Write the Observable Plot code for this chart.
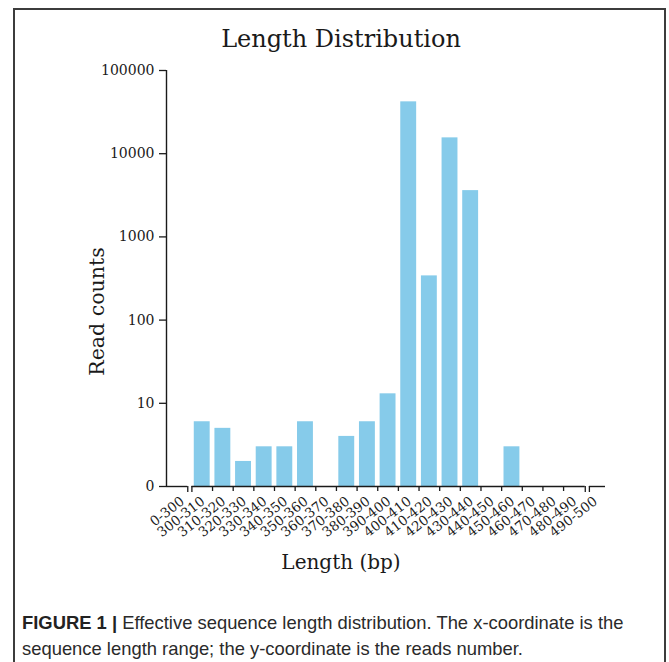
<!DOCTYPE html>
<html><head><meta charset="utf-8">
<script src="https://cdn.jsdelivr.net/npm/d3@7"></script>
<script src="https://cdn.jsdelivr.net/npm/@observablehq/plot@0.6"></script>
<style>
body{margin:0;background:#fff;width:669px;height:662px;overflow:hidden;position:relative}
#frame{position:absolute;left:13px;top:8px;width:653px;height:700px;border:2px solid #3c3c3c;box-sizing:border-box}
#chart{position:absolute;left:0;top:0}
#caption{position:absolute;left:22px;top:610px;width:645px;white-space:nowrap;font-family:"Liberation Sans",Arial,sans-serif;font-size:18.4px;line-height:26px;color:#2a2a2a}
#caption b{color:#222}
</style></head><body>
<div id="frame"></div>
<div id="chart"></div>
<div id="caption"><b>FIGURE 1 |</b> Effective sequence length distribution. The x-coordinate is the<br>sequence length range; the y-coordinate is the reads number.</div>
<script>
const lengthBins = ["0-300","300-310","310-320","320-330","330-340","340-350","350-360","360-370","370-380","380-390","390-400","400-410","410-420","420-430","430-440","440-450","450-460","460-470","470-480","480-490","490-500"];
const readCounts = [0,6,5,2,3,3,6,0,4,6,13,42000,340,15500,3600,0,3,0,0,0,0];
const yTicks = [1,10,100,1000,10000,100000];
const yTickLabels = ["0","10","100","1000","10000","100000"];
const axisBreaks = [0.4, 19.65];
const xDomain = [-0.73, 20.53];

const bars = lengthBins.map((bin, i) => ({bin, i, count: readCounts[i]})).filter(d => d.count > 0);
const boundaries = d3.range(1, 19).map(i => i + 0.5);
const gap = 0.1;
const segments = [
  [xDomain[0], axisBreaks[0] - gap],
  [axisBreaks[0] + gap, axisBreaks[1] - gap],
  [axisBreaks[1] + gap, xDomain[1]]
];
const breakTicks = axisBreaks.flatMap(b => [b - gap, b + gap]);
const ink = "#1a1a1a";

const chart = Plot.plot({
  width: 669,
  height: 590,
  marginLeft: 166,
  marginRight: 64,
  marginTop: 70,
  marginBottom: 104,
  style: {fontFamily: "DejaVu Serif", color: ink, background: "transparent"},
  x: {domain: xDomain, axis: null},
  y: {type: "log", domain: [1, 100000], axis: null},
  marks: [
    Plot.rectY(bars, {x1: d => d.i - 0.385, x2: d => d.i + 0.385, y1: 1, y2: "count", fill: "#86cbea"}),
    Plot.axisY({ticks: yTicks, tickFormat: d => yTickLabels[yTicks.indexOf(d)], tickSize: 7, tickPadding: 5, fontSize: 14, label: null, stroke: ink, strokeWidth: 1.3}),
    Plot.ruleX([xDomain[0]], {y1: 1, y2: 100000, stroke: ink, strokeWidth: 1.4}),
    Plot.ruleY(segments, {x1: d => d[0], x2: d => d[1], y: 1, stroke: ink, strokeWidth: 1.4}),
    Plot.ruleX(boundaries, {x: d => d, y1: 1, y2: 1, insetBottom: -5, stroke: ink, strokeWidth: 1.3}),
    Plot.ruleX(breakTicks, {x: d => d, y1: 1, y2: 1, insetBottom: -6, stroke: ink, strokeWidth: 1.3}),
    Plot.text(lengthBins, {x: (d, i) => i, frameAnchor: "bottom", text: d => d, rotate: -38, textAnchor: "end", lineAnchor: "middle", dy: 13, dx: 1, fontSize: 13.5, fill: ink}),
    Plot.text(["Length Distribution"], {frameAnchor: "top", textAnchor: "middle", dy: -24, dx: -45, fontSize: 24, lineAnchor: "bottom", fill: ink}),
    Plot.text(["Length (bp)"], {frameAnchor: "bottom", textAnchor: "middle", dy: 82, dx: -45, fontSize: 20, lineAnchor: "bottom", fill: ink}),
    Plot.text(["Read counts"], {frameAnchor: "left", textAnchor: "middle", dx: -63, dy: 33, rotate: -90, fontSize: 20.5, lineAnchor: "bottom", fill: ink})
  ]
});
document.getElementById("chart").appendChild(chart);
</script>
</body></html>
